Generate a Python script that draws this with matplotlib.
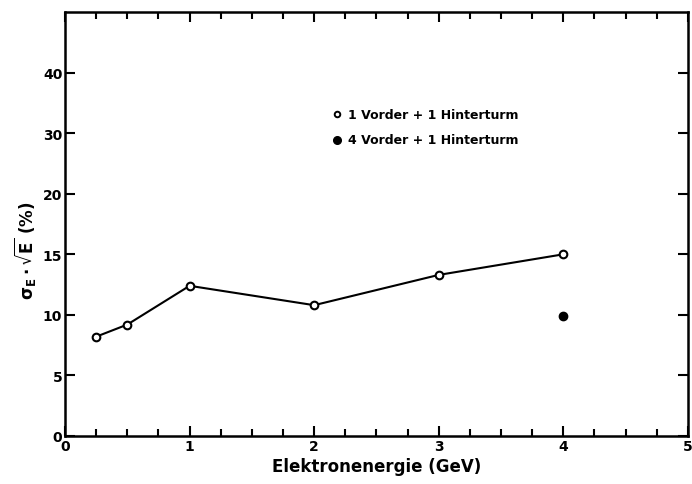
import numpy as np
import matplotlib
matplotlib.use("Agg")
import matplotlib.pyplot as plt
from matplotlib.scale import FuncScale

plt.rcParams['font.family'] = ['DejaVu Sans']
plt.rcParams['font.weight'] = 'bold'

# Energieauflösung, 1 Vorder- + 1 Hinterturm
energie_1v = [0.25, 0.5, 1.0, 2.0, 3.0, 4.0]
aufl_1v = [8.2, 9.2, 12.4, 10.8, 13.3, 15.0]

# 4 Vorder- + 1 Hinterturm
energie_4v = [4.0]
aufl_4v = [9.9]

yticks = [0, 5, 10, 15, 20, 30, 40]
xticks = [0, 1, 2, 3, 4, 5]


# y-Achse: unterhalb 20 linear, oberhalb halber Maßstab
def fwd(y):
    y = np.asarray(y, dtype=float)
    return np.where(y <= 20, y, 20 + (y - 20) / 2)


def inv(y):
    y = np.asarray(y, dtype=float)
    return np.where(y <= 20, y, 20 + (y - 20) * 2)


fig = plt.figure(figsize=(6.92, 4.85), dpi=100)
ax = fig.add_axes([0.094, 0.099, 0.9, 0.874])
ax.set_yscale(FuncScale(ax.yaxis, (fwd, inv)))

ax.plot(energie_1v, aufl_1v, '-', color='black', lw=1.5, zorder=2)
ax.plot(energie_1v, aufl_1v, 'o', ms=5.5, mfc='white', mec='black', mew=1.5, zorder=3)
ax.plot(energie_4v, aufl_4v, 'o', ms=6, color='black', zorder=3)

ax.set_xlim(0, 5)
ax.set_ylim(0, 50)
ax.set_xticks(xticks)
ax.set_xticks(np.arange(0, 5.01, 0.25), minor=True)
ax.set_yticks(yticks)
ax.set_yticklabels([str(t) for t in yticks], fontsize=10, fontweight='bold')
ax.set_xticklabels([str(t) for t in xticks], fontsize=10, fontweight='bold')
ax.yaxis.set_minor_locator(plt.NullLocator())

ax.tick_params(axis='both', which='major', direction='in', length=7, width=1.5,
               top=True, right=True, pad=2)
ax.tick_params(axis='x', which='minor', direction='in', length=5, width=1.5,
               top=True, bottom=True)
for s in ax.spines.values():
    s.set_linewidth(1.8)

ax.set_xlabel('Elektronenergie (GeV)', fontsize=12, fontweight='bold', labelpad=3)
ax.set_ylabel(r'$\mathbf{\sigma_E \cdot \sqrt{E}}$ (%)', fontsize=12, fontweight='bold')
ax.yaxis.set_label_coords(-0.043, 0.44)

# Legende
ax.plot([2.18], [33.1], 'o', ms=4, mfc='white', mec='black', mew=1.4, clip_on=False)
ax.plot([2.18], [28.9], 'o', ms=5.5, color='black', clip_on=False)
ax.text(2.27, 33.1, '1 Vorder + 1 Hinterturm', fontsize=9, fontweight='bold',
        va='center')
ax.text(2.27, 28.9, '4 Vorder + 1 Hinterturm', fontsize=9, fontweight='bold',
        va='center')

fig.savefig('out.png', dpi=100)
